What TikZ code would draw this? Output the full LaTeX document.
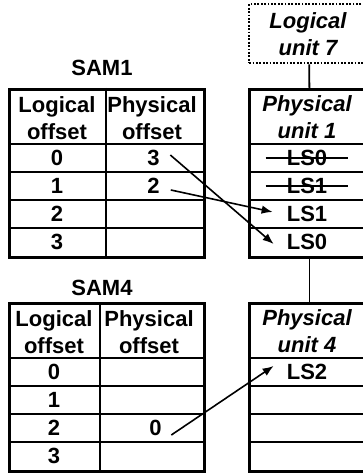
\documentclass[tikz,border=0pt]{standalone}
\usepackage{fontspec}
\setmainfont{Liberation Sans}
\usetikzlibrary{arrows.meta}

\tikzset{
  txt/.style={font=\fontsize{22}{27}\selectfont\bfseries, inner sep=0pt, align=center},
  itxt/.style={font=\fontsize{22}{27}\selectfont\bfseries\itshape, inner sep=0pt, align=center},
  frame/.style={draw, line width=2.8pt, rectangle, anchor=north west, inner sep=0pt,
                minimum width=#1},
  rowline/.style={line width=1.4pt},
  colline/.style={line width=2.2pt},
  conn/.style={line width=1.8pt},
  ptr/.style={line width=1.6pt, -{Latex[length=11pt,width=8.5pt]}},
  strike/.style={line width=1.5pt},
}

\begin{document}
\begin{tikzpicture}[x=1pt,y=-1pt]
\useasboundingbox (0,0) rectangle (363,473);
\clip (0,0) rectangle (363,473);

% ---------- SAM1 table ----------
\node[txt] (t1) at (102,68) {SAM1};
\node[frame=195pt, minimum height=168pt] (s1) at (8,88) {};
\draw[rowline] (8,144) -- (203,144);
\foreach \y in {172,200,228} \draw[rowline] (8,\y) -- (203,\y);
\draw[colline] (106,88) -- (106,256);
\node[txt] (s1hl) at (57,118) {Logical\\offset};
\node[txt] (s1hp) at (152,118) {Physical\\offset};
\node[txt] (s1l0) at (57,158) {0};
\node[txt] (s1l1) at (57,186) {1};
\node[txt] (s1l2) at (57,214) {2};
\node[txt] (s1l3) at (57,242) {3};
\node[txt] (s1p0) at (153.5,158) {3};
\node[txt] (s1p1) at (153.5,186) {2};

% ---------- SAM4 table ----------
\node[txt] (t4) at (102,288) {SAM4};
\node[frame=195pt, minimum height=168pt] (s4) at (8,302) {};
\draw[rowline] (8,358) -- (203,358);
\foreach \y in {386,414,442} \draw[rowline] (8,\y) -- (203,\y);
\draw[colline] (100,302) -- (100,470);
\node[txt] (s4hl) at (54,332) {Logical\\offset};
\node[txt] (s4hp) at (149,332) {Physical\\offset};
\node[txt] (s4l0) at (54,372) {0};
\node[txt] (s4l1) at (54,400) {1};
\node[txt] (s4l2) at (54,428) {2};
\node[txt] (s4l3) at (54,456) {3};
\node[txt] (s4p2) at (155.5,428) {0};

% ---------- logical unit 7 ----------
\node[frame=120pt, minimum height=59pt, dash pattern=on 1.8pt off 1.6pt, line width=2.3pt]
  (lu7) at (248,3) {};
\node[itxt] (lu7t) at (308,34) {Logical\\unit 7};

% ---------- physical unit 1 ----------
\node[frame=120pt, minimum height=168pt] (u1) at (248,88) {};
\draw[rowline] (248,144) -- (368,144);
\foreach \y in {172,200,228} \draw[rowline] (248,\y) -- (368,\y);
\node[itxt] (u1h) at (307,117) {Physical\\unit 1};
\node[txt] (u1a) at (307,158) {LS0};
\node[txt] (u1b) at (307,186) {LS1};
\node[txt] (u1c) at (307,214) {LS1};
\node[txt] (u1d) at (307,242) {LS0};
\draw[strike] ([xshift=-21pt]u1a.west) -- ([xshift=21pt]u1a.east);
\draw[strike] ([xshift=-21pt]u1b.west) -- ([xshift=21pt]u1b.east);

% ---------- physical unit 4 ----------
\node[frame=120pt, minimum height=168pt] (u4) at (248,302) {};
\draw[rowline] (248,358) -- (368,358);
\foreach \y in {386,414,442} \draw[rowline] (248,\y) -- (368,\y);
\node[itxt] (u4h) at (307,331) {Physical\\unit 4};
\node[txt] (u4a) at (307,372) {LS2};

% ---------- chain of units ----------
\draw[conn] (lu7.south) -- (u1.north);
\draw[conn] (u1.south) -- (u4.north);

% ---------- offset pointers ----------
\draw[ptr] ([shift={(10.5,-3)}]s1p0.east) -- ([shift={(-13,2)}]u1d.west);
\draw[ptr] ([shift={(11,4)}]s1p1.east) -- ([shift={(-14,-2)}]u1c.west);
\draw[ptr] ([shift={(9.5,7)}]s4p2.east) -- ([shift={(-13,-6)}]u4a.west);
\end{tikzpicture}
\end{document}
